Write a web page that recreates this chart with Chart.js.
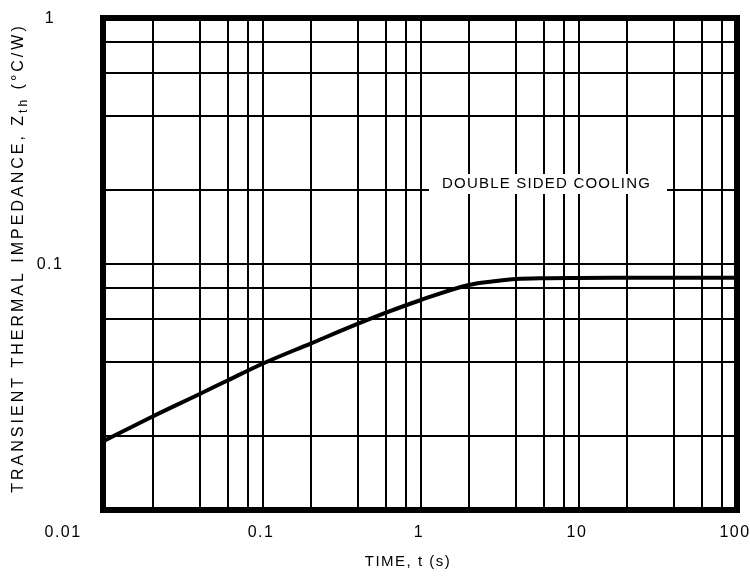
<!DOCTYPE html>
<html>
<head>
<meta charset="utf-8">
<script src="https://cdn.jsdelivr.net/npm/chart.js@4.4.1/dist/chart.umd.min.js"></script>
<style>
  html, body { margin: 0; padding: 0; background: #fff; }
  #wrap { width: 750px; height: 576px; }
</style>
</head>
<body>
<div id="wrap"><canvas id="zthChart"></canvas></div>
<script>
// curve
var timeValues = [0.0097, 0.02, 0.04, 0.06, 0.1, 0.2, 0.4, 0.6, 1, 2, 3, 4, 6, 10, 20, 50, 100];
var zthValues  = [0.0190, 0.0240, 0.0297, 0.0337, 0.0394, 0.0475, 0.0572, 0.0634, 0.0714, 0.0822, 0.0853, 0.0869, 0.0876, 0.0878, 0.0879, 0.0880, 0.0880];

// grid lines (2, 4, 6, 8 per decade)
var xGrid = [0.02, 0.04, 0.06, 0.08, 0.1, 0.2, 0.4, 0.6, 0.8, 1, 2, 4, 6, 8, 10, 20, 40, 60, 80, 100];
var yGrid = [0.01, 0.02, 0.04, 0.06, 0.08, 0.1, 0.2, 0.4, 0.6, 0.8, 1];

// tick labels
var xTickValues = [0.01, 0.1, 1, 10, 100];
var xTickLabels = ['0.01', '0.1', '1', '10', '100'];
var yTickValues = [1, 0.1];
var yTickLabels = ['1', '0.1'];

var curveName = 'DOUBLE SIDED COOLING';

document.addEventListener('DOMContentLoaded', function() {
    var points = timeValues.map(function(t, i) { return {x: t, y: zthValues[i]}; });

    // draws the frame, tick labels, axis titles and the curve note like the printed sheet
    var sheetText = {
        id: 'sheetText',
        beforeDraw: function(chart) {
            var ctx = chart.ctx;
            ctx.save();
            ctx.fillStyle = '#fff';
            ctx.fillRect(0, 0, chart.width, chart.height);
            ctx.restore();
        },
        afterDraw: function(chart) {
            var ctx = chart.ctx;
            var area = chart.chartArea;
            var xs = chart.scales.x;
            var ys = chart.scales.y;
            var font = ' "Liberation Sans", Arial, sans-serif';
            ctx.save();

            // note on the curve, white box breaks the grid
            ctx.fillStyle = '#fff';
            ctx.fillRect(429, 174, 238, 20);
            ctx.fillStyle = '#000';
            ctx.font = '15px' + font;
            ctx.letterSpacing = '1.2px';
            ctx.textAlign = 'left';
            ctx.textBaseline = 'middle';
            ctx.fillText(curveName, 442, 184);

            // heavy frame
            ctx.strokeStyle = '#000';
            ctx.lineWidth = 6;
            ctx.strokeRect(area.left, area.top, area.right - area.left, area.bottom - area.top);

            // tick labels
            ctx.font = '16px' + font;
            ctx.letterSpacing = '1.5px';
            ctx.textAlign = 'center';
            xTickValues.forEach(function(v, i) {
                var px = xs.getPixelForValue(Math.max(v, xs.min)) - 2;
                if (i === 0) px -= 40;
                ctx.fillText(xTickLabels[i], px, 533);
            });
            yTickValues.forEach(function(v, i) {
                ctx.fillText(yTickLabels[i], 50, ys.getPixelForValue(v) + 1);
            });

            // x title
            ctx.font = '15px' + font;
            ctx.letterSpacing = '1.5px';
            ctx.fillText('TIME, t (s)', 408, 562);

            // y title, rotated, with subscript
            ctx.translate(19, 258);
            ctx.rotate(-Math.PI / 2);
            var parts = [
                {t: 'TRANSIENT THERMAL IMPEDANCE, Z', f: '16px', dy: 0},
                {t: 'th', f: '12px', dy: 5},
                {t: ' (\u00B0C/W)', f: '16px', dy: 0}
            ];
            ctx.letterSpacing = '3px';
            var total = 0;
            parts.forEach(function(p) {
                ctx.font = p.f + font;
                p.w = ctx.measureText(p.t).width;
                total += p.w;
            });
            var cx = -total / 2;
            ctx.textAlign = 'left';
            parts.forEach(function(p) {
                ctx.font = p.f + font;
                ctx.fillText(p.t, cx, p.dy);
                cx += p.w;
            });
            ctx.restore();
        }
    };

    var ctx = document.getElementById('zthChart').getContext('2d');
    new Chart(ctx, {
        type: 'line',
        data: {
            datasets: [{
                label: curveName,
                data: points,
                borderColor: '#000',
                borderWidth: 4,
                pointRadius: 0,
                fill: false,
                cubicInterpolationMode: 'monotone'
            }]
        },
        options: {
            responsive: true,
            maintainAspectRatio: false,
            animation: false,
            layout: { padding: { left: 0, right: 13, top: 18, bottom: 0 } },
            plugins: {
                legend: { display: false },
                tooltip: { enabled: false }
            },
            scales: {
                x: {
                    type: 'logarithmic',
                    min: 0.0097,
                    max: 100,
                    afterBuildTicks: function(scale) {
                        scale.ticks = xGrid.map(function(v) { return {value: v}; });
                    },
                    afterFit: function(scale) { scale.height = 66; },
                    ticks: { display: false },
                    grid: { color: '#000', lineWidth: 2, drawTicks: false },
                    border: { display: false }
                },
                y: {
                    type: 'logarithmic',
                    min: 0.01,
                    max: 1,
                    afterBuildTicks: function(scale) {
                        scale.ticks = yGrid.map(function(v) { return {value: v}; });
                    },
                    afterFit: function(scale) { scale.width = 103; },
                    ticks: { display: false },
                    grid: { color: '#000', lineWidth: 2, drawTicks: false },
                    border: { display: false }
                }
            }
        },
        plugins: [sheetText]
    });
});
</script>
</body>
</html>
